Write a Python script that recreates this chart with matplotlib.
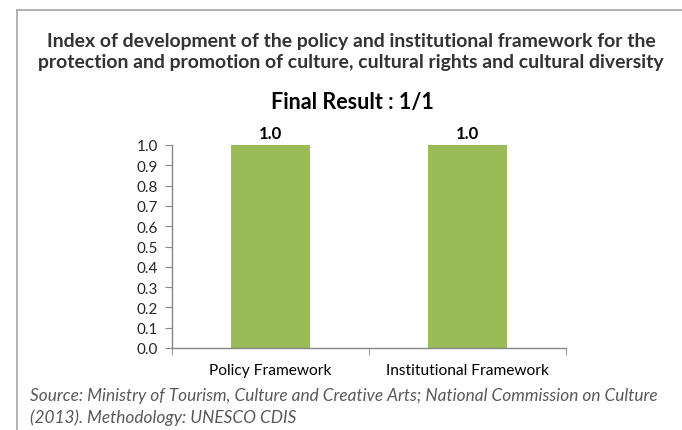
import matplotlib
matplotlib.use("Agg")
import matplotlib.pyplot as plt
from matplotlib.lines import Line2D

categories = ["Policy Framework", "Institutional Framework"]
values = [1.0, 1.0]
yticks = [0.0, 0.1, 0.2, 0.3, 0.4, 0.5, 0.6, 0.7, 0.8, 0.9, 1.0]

title = ("Index of development of the policy and institutional framework for the\n"
         "protection and promotion of culture, cultural rights and cultural diversity")
subtitle = "Final Result : 1/1"
source = ("Source: Ministry of Tourism, Culture and Creative Arts; National Commission on Culture\n"
          "(2013). Methodology: UNESCO CDIS")

plt.rcParams['font.family'] = ['Lato', 'DejaVu Sans']

W, H = 682, 431
fig = plt.figure(figsize=(W / 100, H / 100), dpi=100)
fig.patch.set_facecolor("white")

# frame lines along the top and left
fig.add_artist(Line2D([17 / W, 1], [1 - 11 / H, 1 - 11 / H], color="#a6a6a6", lw=1.2))
fig.add_artist(Line2D([17 / W, 17 / W], [0, 1 - 11 / H], color="#a6a6a6", lw=1.2))

ax = fig.add_axes([172 / W, 1 - 349 / H, (566 - 172) / W, (349 - 146) / H])
x = list(range(len(categories)))
bars = ax.bar(x, values, width=0.4, color="#9bbb59", zorder=2)
ax.set_xlim(-0.5, len(categories) - 0.5)
ax.set_ylim(0, 1.0)
ax.set_yticks(yticks)
ax.set_yticklabels([f"{v:.1f}" for v in yticks])
ax.set_xticks(x)
ax.set_xticklabels(categories)
ax.set_xticks([-0.5, 0.5, 1.5], minor=True)
ax.tick_params(axis="x", which="major", length=0, pad=11, labelsize=11.2, colors="#000000")
ax.tick_params(axis="x", which="minor", length=5, color="#868686", direction="out")
ax.tick_params(axis="y", length=5, color="#868686", labelsize=11, labelcolor="#262626", pad=5)
for s in ["top", "right"]:
    ax.spines[s].set_visible(False)
for s in ["left", "bottom"]:
    ax.spines[s].set_color("#868686")
    ax.spines[s].set_linewidth(1)

for b, v in zip(bars, values):
    ax.text(b.get_x() + b.get_width() / 2, v + 0.018, f"{v:.1f}", ha="center", va="bottom",
            fontsize=12, fontweight="bold", color="#000000")

fig.text(351 / W, 1 - 52 / H, title, ha="center", va="center", fontsize=13.95,
         fontweight="bold", color="#333333", linespacing=1.22)
fig.text(352 / W, 1 - 103 / H, subtitle, ha="center", va="center", fontsize=15.5,
         fontweight="bold", color="#000000")
fig.text(30 / W, 1 - 407 / H, source, ha="left", va="center", fontsize=12.4,
         style="italic", color="#595959", linespacing=1.4)

fig.savefig("out.png", dpi=100)
